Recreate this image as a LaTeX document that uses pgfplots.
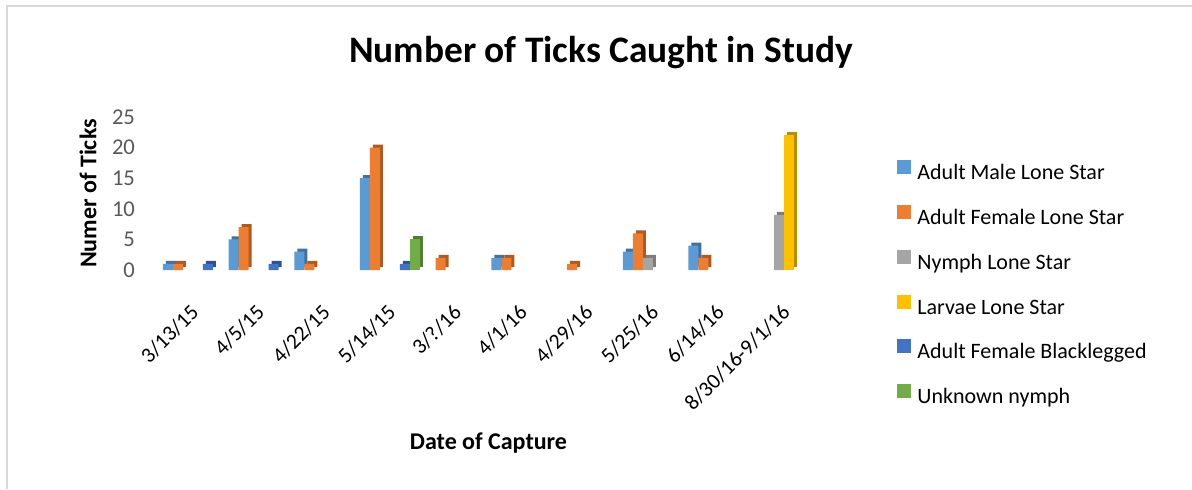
\documentclass[border=0pt]{standalone}
\usepackage{fontspec}
\setmainfont{Carlito}
\usepackage{pgfplots}
\pgfplotsset{compat=1.18}
\definecolor{cA}{HTML}{5B9BD5}
\definecolor{cB}{HTML}{ED7D31}
\definecolor{cC}{HTML}{A5A5A5}
\definecolor{cD}{HTML}{FFC000}
\definecolor{cE}{HTML}{4472C4}
\definecolor{cF}{HTML}{70AD47}
\definecolor{dA}{HTML}{41719C}
\definecolor{dB}{HTML}{AE5A21}
\definecolor{dC}{HTML}{7C7C7C}
\definecolor{dD}{HTML}{BC8C00}
\definecolor{dE}{HTML}{2F528F}
\definecolor{dF}{HTML}{507E32}
\definecolor{tickgray}{HTML}{595959}
\definecolor{bordergray}{HTML}{D9D9D9}
\begin{document}
\begin{tikzpicture}
\begin{axis}[
  at={(0,0)}, anchor=south west,
  scale only axis,
  width=328.5pt, height=76.5pt,
  xmin=-0.5, xmax=9.5, ymin=0, ymax=25,
  ytick={0,5,10,15,20,25},
  xtick={0,...,9},
  xticklabels={3/13/15,4/5/15,4/22/15,5/14/15,3/?/16,4/1/16,4/29/16,5/25/16,6/14/16,8/30/16-9/1/16},
  axis line style={draw=none},
  major tick style={draw=none},
  /pgf/number format/assume math mode=true,
  yticklabel style={font=\fontsize{11.3}{13}\selectfont, text=tickgray, xshift=-9pt},
  xticklabel style={font=\fontsize{10.8}{13}\selectfont, text=black, xshift=-1.8pt, yshift=-7.3pt, rotate=45, anchor=north east},
  ybar, bar width=5pt,
  title={Number of Ticks Caught in Study},
  title style={font=\fontsize{18.7}{22}\bfseries, at={(axis description cs:0,1)}, anchor=center, xshift=220.5pt, yshift=26pt},
  xlabel={Date of Capture},
  every axis x label/.style={at={(axis description cs:0.5,0)}, anchor=center, yshift=-86.5pt, font=\fontsize{12}{14}\selectfont\bfseries},
  ylabel={Numer of Ticks},
  every axis y label/.style={at={(axis description cs:-0.1096,0.5)}, anchor=center, rotate=90, font=\fontsize{12}{14}\selectfont\bfseries},
  legend style={at={(axis description cs:1,1)}, anchor=north west, xshift=40pt, yshift=-21.5pt,
    draw=none, fill=none, inner sep=0pt, row sep=10.1pt,
    font=\fontsize{11}{13}\selectfont,
    nodes={inner sep=0pt, text height=8pt, text depth=2.5pt},
    /tikz/every even column/.append style={column sep=0pt}},
  legend cell align=left,
  legend image code/.code={\fill[#1] (0pt,0pt) rectangle (7pt,7pt); \path (10pt,0pt);},
]
% side/depth faces
\addplot[forget plot, fill=dA, draw=none, bar shift=-12.5pt, xshift=1.5pt, yshift=1.5pt] coordinates {(0,1)(1,5)(2,3)(3,15)(5,2)(7,3)(8,4)};
\addplot[forget plot, fill=dB, draw=none, bar shift=-7.5pt, xshift=1.5pt, yshift=1.5pt] coordinates {(0,1)(1,7)(2,1)(3,20)(4,2)(5,2)(6,1)(7,6)(8,2)};
\addplot[forget plot, fill=dC, draw=none, bar shift=-2.5pt, xshift=1.5pt, yshift=1.5pt] coordinates {(7,2)(9,9)};
\addplot[forget plot, fill=dD, draw=none, bar shift=2.5pt, xshift=1.5pt, yshift=1.5pt] coordinates {(9,22)};
\addplot[forget plot, fill=dE, draw=none, bar shift=7.5pt, xshift=1.5pt, yshift=1.5pt] coordinates {(0,1)(1,1)(3,1)};
\addplot[forget plot, fill=dF, draw=none, bar shift=12.5pt, xshift=1.5pt, yshift=1.5pt] coordinates {(3,5)};
% front faces
\addplot[fill=cA, draw=none, bar shift=-12.5pt] coordinates {(0,1)(1,5)(2,3)(3,15)(5,2)(7,3)(8,4)};
\addplot[fill=cB, draw=none, bar shift=-7.5pt] coordinates {(0,1)(1,7)(2,1)(3,20)(4,2)(5,2)(6,1)(7,6)(8,2)};
\addplot[fill=cC, draw=none, bar shift=-2.5pt] coordinates {(7,2)(9,9)};
\addplot[fill=cD, draw=none, bar shift=2.5pt] coordinates {(9,22)};
\addplot[fill=cE, draw=none, bar shift=7.5pt] coordinates {(0,1)(1,1)(3,1)};
\addplot[fill=cF, draw=none, bar shift=12.5pt] coordinates {(3,5)};
\legend{Adult Male Lone Star, Adult Female Lone Star, Nymph Lone Star, Larvae Lone Star, Adult Female Blacklegged, Unknown nymph}
\end{axis}
\draw[bordergray, line width=1pt] (-76.25pt,-109.5pt) -- (-76.25pt,132pt) -- (516pt,132pt);
\pgfresetboundingbox
\path[use as bounding box] (-80pt,-109.5pt) rectangle (516pt,135pt);
\end{tikzpicture}
\end{document}
